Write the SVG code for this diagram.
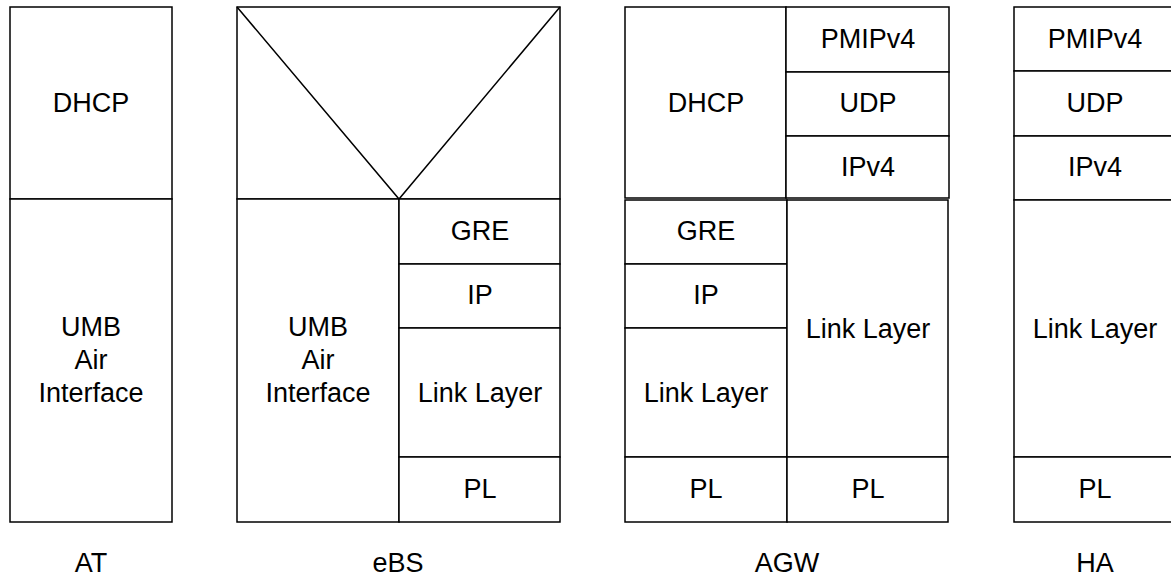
<svg xmlns="http://www.w3.org/2000/svg" width="1171" height="577" viewBox="0 0 1171 577">
  <style>
    .cell { fill: #fff; stroke: #000; stroke-width: 1.5; }
    .ln { fill: none; stroke: #000; stroke-width: 1.5; }
    text { font-family: "Liberation Sans", Arial, sans-serif; font-size: 27px; fill: #000; text-anchor: middle; }
  </style>
  <rect width="1171" height="577" fill="#fff"/>

  <!-- AT stack -->
  <g id="at">
    <rect class="cell" x="10" y="7" width="162" height="192"/>
    <rect class="cell" x="10" y="199" width="162" height="323"/>
    <text x="91" y="112">DHCP</text>
    <text x="91" y="336">UMB</text>
    <text x="91" y="369">Air</text>
    <text x="91" y="402">Interface</text>
    <text x="91" y="572">AT</text>
  </g>

  <!-- eBS stack -->
  <g id="ebs">
    <rect class="cell" x="237" y="7" width="323" height="192"/>
    <path class="ln" d="M237,7 L399,199 L560,7"/>
    <rect class="cell" x="237" y="199" width="162" height="323"/>
    <rect class="cell" x="399" y="199" width="161" height="65"/>
    <rect class="cell" x="399" y="264" width="161" height="64"/>
    <rect class="cell" x="399" y="328" width="161" height="129"/>
    <rect class="cell" x="399" y="457" width="161" height="65"/>
    <text x="318" y="336">UMB</text>
    <text x="318" y="369">Air</text>
    <text x="318" y="402">Interface</text>
    <text x="480" y="240">GRE</text>
    <text x="480" y="304">IP</text>
    <text x="480" y="402">Link Layer</text>
    <text x="480" y="498">PL</text>
    <text x="398" y="572">eBS</text>
  </g>

  <!-- AGW stack -->
  <g id="agw">
    <rect class="cell" x="625" y="7" width="161" height="191"/>
    <rect class="cell" x="786" y="7" width="163" height="65"/>
    <rect class="cell" x="786" y="72" width="163" height="64"/>
    <rect class="cell" x="786" y="136" width="163" height="62"/>
    <rect class="cell" x="625" y="200" width="162" height="64"/>
    <rect class="cell" x="625" y="264" width="162" height="64"/>
    <rect class="cell" x="625" y="328" width="162" height="129"/>
    <rect class="cell" x="625" y="457" width="162" height="65"/>
    <rect class="cell" x="787" y="200" width="161" height="257"/>
    <rect class="cell" x="787" y="457" width="161" height="65"/>
    <text x="706" y="112">DHCP</text>
    <text x="868" y="48">PMIPv4</text>
    <text x="868" y="112">UDP</text>
    <text x="868" y="176">IPv4</text>
    <text x="706" y="240">GRE</text>
    <text x="706" y="304">IP</text>
    <text x="706" y="402">Link Layer</text>
    <text x="706" y="498">PL</text>
    <text x="868" y="338">Link Layer</text>
    <text x="868" y="498">PL</text>
    <text x="787" y="572">AGW</text>
  </g>

  <!-- HA stack (continues past the right edge) -->
  <g id="ha">
    <rect class="cell" x="1014" y="7" width="163" height="64"/>
    <rect class="cell" x="1014" y="71" width="163" height="65"/>
    <rect class="cell" x="1014" y="136" width="163" height="64"/>
    <rect class="cell" x="1014" y="200" width="163" height="257"/>
    <rect class="cell" x="1014" y="457" width="163" height="65"/>
    <text x="1095" y="48">PMIPv4</text>
    <text x="1095" y="112">UDP</text>
    <text x="1095" y="176">IPv4</text>
    <text x="1095" y="338">Link Layer</text>
    <text x="1095" y="498">PL</text>
    <text x="1095" y="572">HA</text>
  </g>

  <g id="connectors"></g>
</svg>
